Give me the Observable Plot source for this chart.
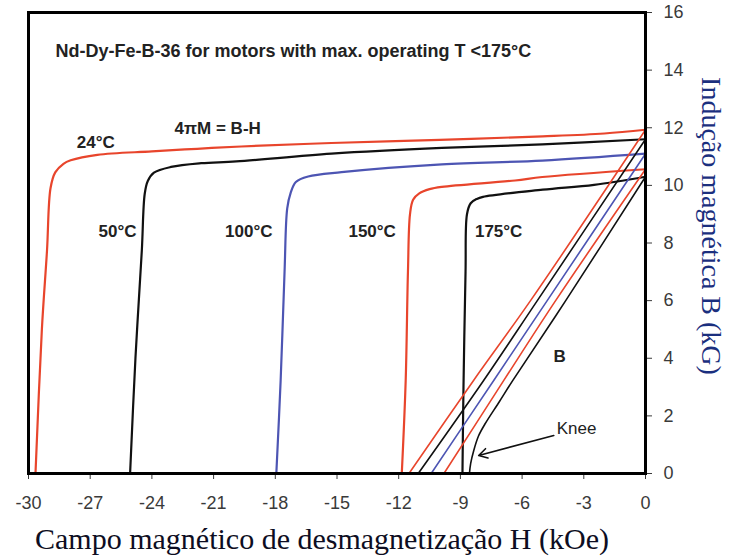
<!DOCTYPE html>
<html>
<head>
<meta charset="utf-8">
<script src="https://cdn.jsdelivr.net/npm/d3@7"></script>
<script src="https://cdn.jsdelivr.net/npm/@observablehq/plot@0.6"></script>
<style>
  html, body { margin: 0; padding: 0; background: #fff; }
</style>
</head>
<body>
<div id="chart"></div>
<script>
// Tick values
const xTicks = [-30, -27, -24, -21, -18, -15, -12, -9, -6, -3, 0];
const yTicks = [0, 2, 4, 6, 8, 10, 12, 14, 16];

// Series names and colours
const temps = ["24°C", "50°C", "100°C", "150°C", "175°C"];
const colors = ["#e8452c", "#111111", "#4d55b3", "#e8452c", "#111111"];

// Intrinsic curves 4πM = B - H : [H (kOe), 4πM (kG)]
const m24 = [[-29.66, 0], [-29.35, 5], [-29.1, 7.74], [-28.93, 9.9], [-28.7, 10.45], [-28.3, 10.75], [-27.95, 10.87], [-26.65, 11.06], [-24, 11.18], [-21.8, 11.27], [-19.66, 11.35], [-15.27, 11.47], [-10, 11.58], [-5, 11.7], [-2, 11.8], [0, 11.93]];
const m50 = [[-25.06, 0], [-24.8, 4], [-24.49, 7.74], [-24.35, 9.7], [-24.2, 10.15], [-23.9, 10.44], [-23.07, 10.64], [-21.6, 10.77], [-19.9, 10.83], [-15.27, 11.1], [-9.9, 11.3], [-5.02, 11.42], [0, 11.6]];
const m100 = [[-17.95, 0], [-17.74, 3.23], [-17.55, 7], [-17.42, 9.2], [-17.25, 9.75], [-17.0, 10.12], [-16.4, 10.31], [-14.78, 10.46], [-9.9, 10.73], [-5.02, 10.86], [0, 11.1]];
const m150 = [[-11.85, 0], [-11.66, 3.23], [-11.55, 7], [-11.45, 9.0], [-11.3, 9.5], [-11.0, 9.72], [-10.5, 9.87], [-9.9, 9.95], [-6.34, 10.17], [-5.02, 10.29], [0, 10.56]];
const m175 = [[-8.9, 0], [-8.85, 3], [-8.75, 7], [-8.68, 9.0], [-8.5, 9.38], [-8.2, 9.53], [-7.9, 9.6], [-5, 9.85], [-2.5, 10.02], [0, 10.3]];

// Normal curves B : [H (kOe), B (kG)]
const b24 = [[-11.5, 0], [-8.36, 3.23], [-5.59, 6.0], [0, 11.93]];
const b50 = [[-11.05, 0], [-7.87, 3.23], [-5.26, 6.0], [0, 11.6]];
const b100 = [[-10.42, 0], [-7.38, 3.23], [-4.78, 6.0], [0, 11.1]];
const b150 = [[-9.8, 0], [-6.89, 3.23], [-4.37, 6.0], [0, 10.56]];
const b175 = [[-8.56, 0], [-8.5, 0.35], [-8.35, 0.8], [-8.12, 1.3], [-7.82, 1.7], [-7.1, 2.5], [-6.45, 3.23], [-3.88, 6.0], [0, 10.3]];

const intrinsic = [m24, m50, m100, m150, m175];
const normal = [b24, b50, b100, b150, b175];

// Text
const title = "Nd-Dy-Fe-B-36 for motors with max. operating T <175°C";
const xTitle = "Campo magnético de desmagnetização H (kOe)";
const yTitle = "Indução magnética B (kG)";
const boldLabels = [
  {t: "4πM = B-H", H: -20.8, B: 11.98},
  {t: "24°C", H: -26.73, B: 11.49},
  {t: "50°C", H: -25.67, B: 8.4},
  {t: "100°C", H: -19.29, B: 8.4},
  {t: "150°C", H: -13.29, B: 8.4},
  {t: "175°C", H: -7.14, B: 8.4},
  {t: "B", H: -4.17, B: 4.06}
];
const kneeLabel = [{t: "Knee", H: -4.32, B: 1.56}];
const kneeArrow = [{H1: -4.46, B1: 1.32, H2: -8.11, B2: 0.625}];

const rows = (sets, kind) => sets.flatMap((s, i) => s.map(([H, B]) => ({H, B, series: temps[i] + kind, color: colors[i]})));

const chart = Plot.plot({
  width: 729,
  height: 560,
  marginLeft: 28,
  marginRight: 84,
  marginTop: 12,
  marginBottom: 87,
  style: {fontFamily: "Arial, 'Liberation Sans', sans-serif", background: "#fff"},
  x: {domain: [-30, 0]},
  y: {domain: [0, 16]},
  marks: [
    Plot.axisX(xTicks, {tickSize: 6, tickPadding: 17, fontSize: 18, color: "#3a3a3a", tickFormat: d => String(d), label: null}),
    Plot.axisY(yTicks, {anchor: "right", tickSize: 6, tickPadding: 12, fontSize: 18, color: "#3a3a3a", tickFormat: d => String(d), label: null}),
    Plot.line(rows(intrinsic, " M"), {x: "H", y: "B", z: "series", stroke: "color", strokeWidth: 2.2, curve: "catmull-rom"}),
    Plot.line(rows(normal, " B"), {x: "H", y: "B", z: "series", stroke: "color", strokeWidth: 1.6, curve: "catmull-rom"}),
    Plot.frame({stroke: "#000", strokeWidth: 3}),
    Plot.text([title], {frameAnchor: "top-left", dx: 27, dy: 32, textAnchor: "start", fontWeight: "bold", fontSize: 18, fill: "#222"}),
    Plot.text(boldLabels, {x: "H", y: "B", text: "t", fontWeight: "bold", fontSize: 17, fill: "#222"}),
    Plot.text(kneeLabel, {x: "H", y: "B", text: "t", textAnchor: "start", fontSize: 17, fill: "#222"}),
    Plot.arrow(kneeArrow, {x1: "H1", y1: "B1", x2: "H2", y2: "B2", stroke: "#111", strokeWidth: 1.6, headLength: 9}),
    Plot.text([xTitle], {frameAnchor: "bottom", dx: -15, dy: 75, textAnchor: "middle", fontFamily: "'Liberation Serif', 'Times New Roman', serif", fontSize: 30, fill: "#0d0d22"}),
    Plot.text([yTitle], {frameAnchor: "right", dx: 65, dy: -17, rotate: 90, textAnchor: "middle", fontFamily: "'Liberation Serif', 'Times New Roman', serif", fontSize: 28, fill: "#1b2f7e"})
  ]
});
document.getElementById("chart").appendChild(chart);
</script>
</body>
</html>
